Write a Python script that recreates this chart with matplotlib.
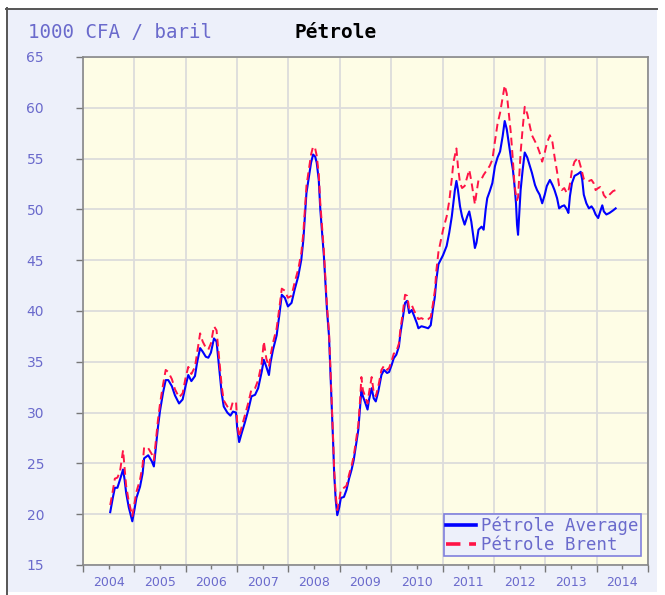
import numpy as np
import matplotlib
matplotlib.use('Agg')
import matplotlib.pyplot as plt
from matplotlib.lines import Line2D
from matplotlib.patches import Rectangle

# ── Data (1000 CFA / baril) ───────────────────────────────────────────────
years = [
    2004.53, 2004.58, 2004.62, 2004.67, 2004.72, 2004.78, 2004.81, 2004.84, 2004.89, 2004.96,
    2005.00, 2005.04, 2005.11, 2005.16, 2005.19, 2005.27, 2005.34, 2005.38, 2005.42, 2005.46,
    2005.50, 2005.56, 2005.61, 2005.66, 2005.73, 2005.79, 2005.87, 2005.94, 2006.00, 2006.05,
    2006.11, 2006.18, 2006.22, 2006.28, 2006.33, 2006.39, 2006.44, 2006.49, 2006.55, 2006.60,
    2006.63, 2006.67, 2006.70, 2006.74, 2006.81, 2006.87, 2006.92, 2006.98, 2007.00, 2007.04,
    2007.09, 2007.15, 2007.22, 2007.28, 2007.35, 2007.41, 2007.48, 2007.52, 2007.57, 2007.62,
    2007.65, 2007.70, 2007.77, 2007.82, 2007.87, 2007.93, 2007.99, 2008.06, 2008.12, 2008.19,
    2008.25, 2008.29, 2008.32, 2008.35, 2008.40, 2008.44, 2008.48, 2008.52, 2008.55, 2008.59,
    2008.62, 2008.66, 2008.69, 2008.72, 2008.75, 2008.79, 2008.81, 2008.83, 2008.85, 2008.87,
    2008.89, 2008.92, 2008.95, 2008.99, 2009.02, 2009.08, 2009.13, 2009.18, 2009.23, 2009.27,
    2009.31, 2009.36, 2009.39, 2009.42, 2009.45, 2009.50, 2009.54, 2009.57, 2009.62, 2009.66,
    2009.70, 2009.75, 2009.78, 2009.81, 2009.86, 2009.92, 2009.96, 2010.01, 2010.05, 2010.10,
    2010.15, 2010.18, 2010.22, 2010.27, 2010.31, 2010.35, 2010.40, 2010.44, 2010.50, 2010.53,
    2010.59, 2010.66, 2010.72, 2010.77, 2010.81, 2010.85, 2010.88, 2010.92, 2010.96, 2011.01,
    2011.08, 2011.13, 2011.18, 2011.21, 2011.24, 2011.27, 2011.30, 2011.34, 2011.38, 2011.43,
    2011.48, 2011.52, 2011.56, 2011.60, 2011.63, 2011.66, 2011.70, 2011.76, 2011.80, 2011.84,
    2011.87, 2011.92, 2011.97, 2012.02, 2012.07, 2012.12, 2012.17, 2012.21, 2012.25, 2012.29,
    2012.33, 2012.37, 2012.40, 2012.43, 2012.45, 2012.47, 2012.49, 2012.52, 2012.56, 2012.60,
    2012.65, 2012.70, 2012.74, 2012.80, 2012.84, 2012.89, 2012.94, 2012.99, 2013.03, 2013.09,
    2013.14, 2013.18, 2013.23, 2013.27, 2013.32, 2013.37, 2013.42, 2013.45, 2013.48, 2013.52,
    2013.57, 2013.64, 2013.69, 2013.72, 2013.75, 2013.80, 2013.85, 2013.90, 2013.94, 2013.98,
    2014.03, 2014.07, 2014.11, 2014.14, 2014.19, 2014.25, 2014.32, 2014.37,
]

average = [
    20.2, 21.6, 22.6, 22.6, 23.4, 24.4, 23.4, 22.1, 20.7, 19.3,
    20.4, 21.6, 22.7, 24.0, 25.5, 25.8, 25.2, 24.7, 26.6, 28.6,
    30.2, 32.0, 33.2, 33.2, 32.6, 31.7, 30.9, 31.3, 32.7, 33.7,
    33.1, 33.6, 34.9, 36.35, 36.0, 35.5, 35.4, 35.9, 37.3, 37.0,
    35.5, 33.5, 31.9, 30.6, 30.0, 29.7, 30.1, 30.0, 28.6, 27.1,
    28.0, 29.0, 30.3, 31.6, 31.75, 32.4, 34.05, 35.2, 34.5, 33.7,
    34.9, 36.2, 37.6, 39.5, 41.6, 41.3, 40.45, 40.8, 42.1, 43.4,
    45.05, 47.0, 49.3, 51.6, 53.3, 54.6, 55.4, 55.2, 54.6, 52.9,
    50.0, 47.35, 45.4, 42.75, 40.1, 37.5, 34.9, 32.2, 29.6, 27.0,
    24.0, 21.4, 19.9, 20.7, 21.6, 21.7, 22.4, 23.5, 24.4, 25.3,
    26.65, 28.3, 30.3, 32.2, 31.6, 30.9, 30.3, 31.3, 32.4, 31.4,
    31.1, 32.1, 32.9, 33.7, 34.2, 33.9, 34.0, 34.7, 35.35, 35.7,
    36.5, 37.8, 39.1, 40.8, 41.0, 39.8, 40.1, 39.6, 38.8, 38.3,
    38.5, 38.4, 38.3, 38.6, 40.1, 41.4, 43.1, 44.6, 45.0, 45.5,
    46.4, 47.7, 49.3, 50.6, 51.9, 52.8, 51.9, 50.3, 49.3, 48.5,
    49.3, 49.8, 48.8, 47.35, 46.2, 46.7, 48.0, 48.3, 48.0, 50.0,
    51.1, 51.8, 52.6, 54.25, 55.1, 55.7, 57.2, 58.7, 57.9, 56.5,
    55.1, 53.9, 52.4, 50.6, 48.5, 47.5, 49.3, 51.9, 53.9, 55.6,
    55.1, 54.25, 53.6, 52.4, 51.9, 51.45, 50.6, 51.45, 52.3, 52.9,
    52.4, 51.9, 51.1, 50.1, 50.3, 50.4, 50.0, 49.65, 51.3, 52.6,
    53.3, 53.5, 53.7, 52.9, 51.45, 50.6, 50.1, 50.3, 50.0, 49.5,
    49.15, 49.8, 50.4, 49.8, 49.5, 49.65, 49.9, 50.1,
]

brent = [
    20.9, 22.3, 23.5, 23.6, 24.2, 26.3, 24.5, 22.8, 21.3, 19.8,
    21.0, 22.2, 23.4, 24.8, 26.6, 26.5, 25.9, 25.3, 27.3, 29.3,
    30.9, 32.8, 34.2, 34.0, 33.3, 32.3, 31.5, 31.9, 33.5, 34.5,
    33.8, 34.5, 35.8, 37.8, 37.0, 36.4, 36.2, 36.8, 38.5, 38.1,
    36.5, 34.3, 32.6, 31.2, 30.6, 30.2, 31.1, 31.0, 29.2, 27.6,
    28.6, 29.7, 31.0, 32.3, 32.4, 33.2, 34.9, 37.0, 35.3, 34.5,
    35.6, 36.9, 38.3, 40.2, 42.2, 42.0, 41.3, 41.5, 42.8, 44.1,
    45.7, 47.7, 50.0, 52.3, 54.0, 55.4, 56.2, 56.0, 55.3, 53.5,
    50.6, 47.9, 45.9, 43.2, 40.5, 37.9, 35.3, 32.6, 30.0, 27.4,
    24.4, 21.9, 20.4, 21.4, 22.4, 22.6, 22.8, 23.9, 24.8, 25.7,
    27.1, 28.8, 30.9, 33.5, 32.2, 31.5, 30.9, 32.0, 33.5, 32.0,
    31.6, 32.6, 33.4, 34.2, 34.6, 34.2, 34.4, 35.1, 35.8, 36.0,
    36.8, 38.2, 39.6, 41.6, 41.5, 40.3, 40.6, 40.1, 39.5, 39.2,
    39.3, 39.1, 39.2, 39.4, 40.6, 42.0, 44.0, 45.8, 46.8, 48.0,
    49.3, 50.8, 53.0, 54.6, 55.3, 56.0, 54.2, 52.6, 52.1, 52.3,
    53.2, 53.9, 52.8, 51.5, 50.5, 51.6, 52.9, 53.0, 53.4, 53.7,
    53.9, 54.3, 54.9, 56.7, 58.4, 59.5, 61.0, 62.2, 61.4, 59.5,
    57.5, 54.8, 52.5, 51.3, 50.9, 51.2, 53.0, 55.6, 58.0, 60.1,
    59.4, 58.2, 57.3, 56.7, 56.3, 55.6, 54.7, 55.6, 56.5, 57.3,
    56.6, 55.2, 53.7, 52.3, 51.9, 52.1, 51.6, 51.8, 52.5, 53.9,
    54.7, 55.1, 54.2, 53.6, 53.0, 52.8, 52.8, 52.9, 52.6, 51.9,
    52.1, 52.2, 51.9, 51.4, 51.1, 51.45, 51.8, 51.9,
]

year_ticks = list(range(2004, 2016))
year_labels = [str(y) for y in range(2004, 2015)]
value_ticks = list(range(15, 70, 5))

# ── Style ─────────────────────────────────────────────────────────────────
PANEL = '#edf0fa'
PLOT_BG = '#fefde6'
TXT = '#6a6acc'
GRID = '#dcdcdc'
MONO = 'DejaVu Sans Mono'

fig = plt.figure(figsize=(6.65, 5.95), dpi=100)
fig.patch.set_facecolor('white')

W, H = 665.0, 595.0
def fx(px): return px / W
def fy(py): return 1 - py / H

# light blue panel and the grey frame on top/left (behind the axes)
fig.patches.append(Rectangle((fx(8), fy(592)), fx(657) - fx(8), fy(9) - fy(592),
                             transform=fig.transFigure, facecolor=PANEL,
                             edgecolor='none', zorder=-5))
fig.lines.append(Line2D([fx(6.5), fx(6.5)], [fy(8), fy(595)], transform=fig.transFigure,
                        color='#555555', lw=1.4, zorder=-4))
fig.lines.append(Line2D([fx(6), fx(657)], [fy(8.5), fy(8.5)], transform=fig.transFigure,
                        color='#555555', lw=1.4, zorder=-4))

ax = fig.add_axes([fx(83), fy(565), fx(648) - fx(83), fy(57) - fy(565)])
ax.set_zorder(1)
ax.set_facecolor(PLOT_BG)

ax.plot(years, average, color='#0000ff', lw=1.5, label='Pétrole Average', zorder=3)
ax.plot(years, brent, color='#ff1446', lw=1.4, dashes=(4, 2.4),
        label='Pétrole Brent', zorder=4)

ax.set_xlim(2004, 2015)
ax.set_ylim(15, 65)

# x axis: year ticks at boundaries, labels centred in each year
ax.set_xticks(year_ticks)
ax.set_xticklabels([])
ax.set_xticks([y + 0.5 for y in range(2004, 2015)], minor=True)
ax.set_xticklabels(year_labels, minor=True)
ax.tick_params(axis='x', which='major', length=5, width=1, color='#777777')
ax.tick_params(axis='x', which='minor', length=3, width=1, color='#777777',
               labelsize=9, labelcolor=TXT, pad=5)

ax.set_yticks(value_ticks)
ax.tick_params(axis='y', length=5, width=1, color='#777777',
               labelsize=10, labelcolor=TXT, pad=23)

ax.grid(True, which='major', color=GRID, lw=1.3)
ax.set_axisbelow(True)
for s in ax.spines.values():
    s.set_color('#888888')
    s.set_linewidth(1.2)

leg = ax.legend(loc='lower right', bbox_to_anchor=(0.988, 0.017),
                prop={'family': MONO, 'size': 12.5}, labelcolor=TXT,
                frameon=True, fancybox=False, framealpha=1,
                facecolor=PANEL, edgecolor='#8080dd',
                handlelength=1.7, handletextpad=0.3, labelspacing=0.05,
                borderpad=0.15, borderaxespad=0)
leg.get_frame().set_linewidth(1.2)
for h in leg.get_lines():
    h.set_linewidth(2.6)

fig.text(fx(28), fy(33), '1000 CFA / baril', family=MONO, fontsize=13.8,
         color=TXT, ha='left', va='center')
fig.text(fx(295), fy(33), 'Pétrole', family=MONO, fontsize=14,
         fontweight='bold', color='black', ha='left', va='center')

fig.savefig('out.png', dpi=100, facecolor=fig.get_facecolor())
